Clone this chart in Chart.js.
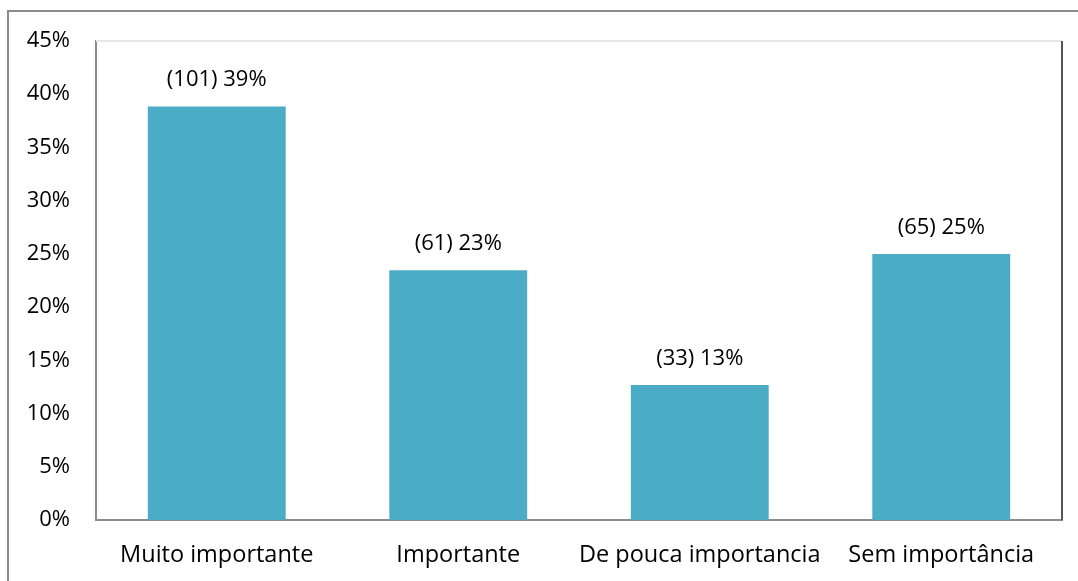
<!DOCTYPE html>
<html>
<head>
<meta charset="utf-8">
<script src="https://cdn.jsdelivr.net/npm/chart.js@4/dist/chart.umd.min.js"></script>
<style>
  html, body { margin: 0; padding: 0; background: #fff; }
  #wrap { width: 1078px; height: 581px; position: relative; }
</style>
</head>
<body>
<div id="wrap"><canvas id="importancia"></canvas></div>
<script>
// Respostas por grau de importância
const categorias = ['Muito importante', 'Importante', 'De pouca importancia', 'Sem importância'];
const respostas = [101, 61, 33, 65];
const percentuais = [38.85, 23.46, 12.69, 25.0];
const ticksY = [0, 5, 10, 15, 20, 25, 30, 35, 40, 45];

const fonte = '"Open Sans", sans-serif';

// moldura externa + bordas superior/direita da área do gráfico + rótulos
const molduraPlugin = {
    id: 'moldura',
    beforeDraw(chart) {
        const { ctx } = chart;
        ctx.save();
        ctx.strokeStyle = '#8c8c8c';
        ctx.lineWidth = 2;
        ctx.beginPath();
        ctx.moveTo(8, chart.height);
        ctx.lineTo(8, 11);
        ctx.lineTo(chart.width, 11);
        ctx.stroke();
        ctx.restore();
    },
    afterDatasetsDraw(chart) {
        const { ctx, chartArea: a } = chart;
        ctx.save();
        ctx.lineWidth = 2;
        ctx.strokeStyle = '#e6e6e6';
        ctx.beginPath();
        ctx.moveTo(a.left, a.top);
        ctx.lineTo(a.right, a.top);
        ctx.stroke();
        ctx.strokeStyle = '#555';
        ctx.beginPath();
        ctx.moveTo(a.right, a.top);
        ctx.lineTo(a.right, a.bottom);
        ctx.stroke();

        // rótulos "(n) x%"
        ctx.fillStyle = '#000';
        ctx.font = '22px ' + fonte;
        ctx.textAlign = 'center';
        ctx.textBaseline = 'alphabetic';
        chart.getDatasetMeta(0).data.forEach((bar, i) => {
            const txt = '(' + respostas[i] + ') ' + Math.round(percentuais[i]) + '%';
            ctx.fillText(txt, bar.x, bar.y - 20);
        });
        ctx.restore();
    }
};

new Chart('importancia', {
    type: 'bar',
    data: {
        labels: categorias,
        datasets: [{
            data: percentuais,
            backgroundColor: '#4bacc6',
            barPercentage: 0.571,
            categoryPercentage: 1.0
        }]
    },
    options: {
        responsive: true,
        maintainAspectRatio: false,
        animation: false,
        layout: { padding: { left: 0, top: 41, right: 16, bottom: 0 } },
        plugins: {
            legend: { display: false },
            tooltip: { enabled: false }
        },
        scales: {
            x: {
                grid: { display: false, drawTicks: false },
                border: { display: true, color: '#8c8c8c', width: 2 },
                ticks: {
                    color: '#000',
                    padding: 21,
                    maxRotation: 0,
                    autoSkip: false,
                    font: { family: fonte, size: 23.5 }
                },
                afterFit: s => { s.height = 61; }
            },
            y: {
                min: 0,
                max: 45,
                afterBuildTicks: s => { s.ticks = ticksY.map(v => ({ value: v })); },
                grid: { display: false, drawTicks: false },
                border: { display: true, color: '#8c8c8c', width: 2 },
                ticks: {
                    color: '#000',
                    padding: 26,
                    font: { family: fonte, size: 22 },
                    callback: v => v + '%'
                },
                afterFit: s => { s.width = 96; }
            }
        }
    },
    plugins: [molduraPlugin]
});
</script>
</body>
</html>
